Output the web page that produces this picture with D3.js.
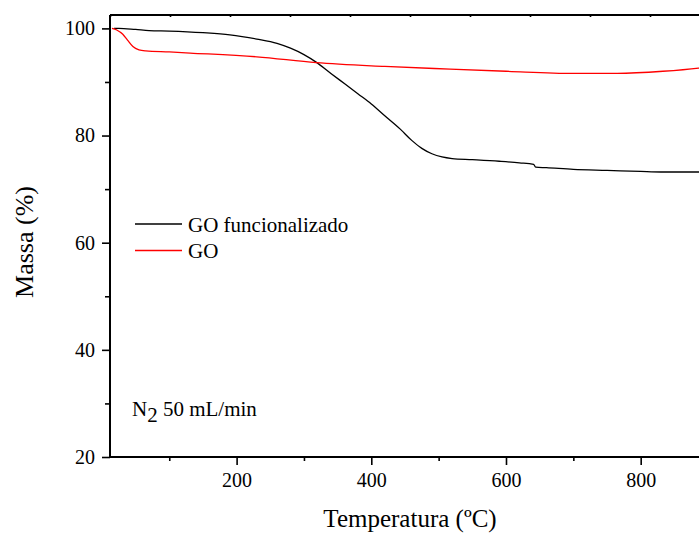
<!DOCTYPE html>
<html>
<head>
<meta charset="utf-8">
<script src="https://cdn.jsdelivr.net/npm/d3@7"></script>
<style>
html,body{margin:0;padding:0;background:#fff;}
svg{display:block;}
text{font-family:"Liberation Serif","Times New Roman",serif;fill:#000;}
</style>
</head>
<body>
<svg id="chart" width="699" height="533"></svg>
<script>
// ---- data ----
const blackTemp = [18,25,50,70,100,150,190,230,260,280,300,318,340,360,380,400,420,443,460,475,490,505,520,550,590,620,641,644,660,700,750,800,830,920];
const blackMass = [100.0,100.0,99.8,99.6,99.5,99.2,98.8,98.0,97.2,96.3,95.1,93.7,91.6,89.7,87.8,85.9,83.7,81.2,79.1,77.6,76.6,76.0,75.7,75.5,75.2,74.9,74.6,74.1,74.0,73.7,73.5,73.3,73.2,73.2];
const redTemp = [15,22,31,38,46,55,65,100,131,230,318,420,517,600,700,765,833,886,920];
const redMass = [100.0,99.7,98.9,97.8,96.6,96.0,95.8,95.6,95.4,94.7,93.6,92.9,92.4,92.0,91.6,91.6,92.0,92.6,93.2];
const seriesNames = ["GO funcionalizado","GO"];
const seriesColors = ["#000000","#ff0000"];
const xTicks = [200,400,600,800];
const xMinor = [100,300,500,700,900];
const yTicks = [20,40,60,80,100];
const yMinor = [30,50,70,90];
const xTitle = "Temperatura (ºC)";
const yTitle = "Massa (%)";

// ---- layout ----
const svg = d3.select("#chart");
const L = 110, T = 15, B = 457, R = 721.5;
const x = d3.scaleLinear().domain([12, 920]).range([L, R]);
const y = d3.scaleLinear().domain([20, 102.5]).range([B, T]);

svg.append("defs").append("clipPath").attr("id","clip")
  .append("rect").attr("x",L).attr("y",T).attr("width",R-L).attr("height",B-T);

const series = [
  {name:seriesNames[0], color:seriesColors[0], data:blackTemp.map((t,i)=>[t,blackMass[i]])},
  {name:seriesNames[1], color:seriesColors[1], data:redTemp.map((t,i)=>[t,redMass[i]])}
];
const line = d3.line().x(d=>x(d[0])).y(d=>y(d[1])).curve(d3.curveMonotoneX);
const g = svg.append("g").attr("clip-path","url(#clip)");
series.forEach(s=>{
  g.append("path").attr("d",line(s.data)).attr("fill","none")
   .attr("stroke",s.color).attr("stroke-width",1.3);
});

// ---- axes ----
const xAxis = svg.append("g").attr("transform",`translate(0,${B})`)
  .call(d3.axisBottom(x).tickValues(xTicks).tickSize(8).tickPadding(8).tickFormat(d3.format("d")));
svg.append("g").attr("transform",`translate(0,${B})`)
  .call(d3.axisBottom(x).tickValues(xMinor).tickSize(4).tickFormat(""))
  .call(a=>a.select(".domain").remove());
const yAxis = svg.append("g").attr("transform",`translate(${L},0)`)
  .call(d3.axisLeft(y).tickValues(yTicks).tickSize(8).tickPadding(7).tickFormat(d3.format("d")));
svg.append("g").attr("transform",`translate(${L},0)`)
  .call(d3.axisLeft(y).tickValues(yMinor).tickSize(5).tickFormat(""))
  .call(a=>a.select(".domain").remove());
// top axis
const xTop = d3.scaleLinear().domain([0,10]).range([L, L+600]);
svg.append("g").attr("transform",`translate(0,${T})`)
  .call(d3.axisTop(xTop).ticks(10).tickSize(-2).tickFormat(""))
  .call(a=>a.select(".domain").attr("d",`M${L},0H${R}`));

svg.selectAll(".domain").attr("stroke","#000").attr("stroke-width",2);
svg.selectAll(".tick line").attr("stroke","#000").attr("stroke-width",1.6);
svg.selectAll(".tick text").style("font-family","Liberation Serif").style("font-size","20px").attr("fill","#000");
xAxis.select(".domain").attr("d",`M${L},0H${R}`);
yAxis.select(".domain").attr("d",`M0,${B}V${T}`);

// titles
svg.append("text").attr("x",410).attr("y",527).attr("text-anchor","middle")
  .style("font-size","25px").text(xTitle);
svg.append("text").attr("transform","translate(33,242) rotate(-90)").attr("text-anchor","middle")
  .style("font-size","26px").text(yTitle);

// legend
series.forEach((s,i)=>{
  const ly = 224 + i*26.5;
  svg.append("line").attr("x1",135).attr("x2",182).attr("y1",ly).attr("y2",ly)
    .attr("stroke",s.color).attr("stroke-width",1.3);
  svg.append("text").attr("x",188).attr("y",ly+7.5).style("font-size","21px").text(s.name);
});

// annotation
const ann = svg.append("text").attr("x",132).attr("y",416).style("font-size","21px");
ann.append("tspan").text("N");
ann.append("tspan").attr("dy",6).text("2");
ann.append("tspan").attr("dy",-6).text(" 50 mL/min");
</script>
</body>
</html>
